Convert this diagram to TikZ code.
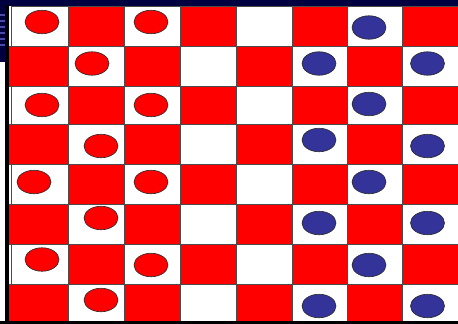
\documentclass[tikz,border=0pt]{standalone}
\usetikzlibrary{shapes.geometric}
\definecolor{bred}{HTML}{FF0000}
\definecolor{bblue}{HTML}{333399}
\definecolor{navy}{HTML}{000040}
\definecolor{stripe}{HTML}{4A4AA8}
\tikzset{
  sq/.style={draw=black!70, line width=0.7pt},
  redsq/.style={sq, fill=bred},
  whitesq/.style={sq, fill=white},
  piece/.style={ellipse, draw=black!85, line width=0.6pt, minimum width=34pt, minimum height=23.5pt, inner sep=0pt},
  redpiece/.style={piece, fill=bred},
  bluepiece/.style={piece, fill=bblue},
}
\begin{document}
\begin{tikzpicture}[x=1pt, y=-1pt]
\useasboundingbox (0,0) rectangle (458,324);
\fill[white] (0,0) rectangle (458,324);
% slide background remnants
\fill[navy] (0,0) rectangle (458,6);
\fill[navy] (0,0) rectangle (6,62);
\foreach \yy in {14,20,26,32,38,44} {\fill[stripe] (0,\yy) rectangle (5,\yy+1.5);}
% squares
\def\colx{{10,68,124,180,236,292,347,402,458}}
\def\rowy{{6,46,86,124,164,204,244,284,322}}
\foreach \r in {0,...,7} {
  \foreach \c in {0,...,7} {
    \pgfmathsetmacro{\xa}{\colx[\c]}
    \pgfmathsetmacro{\xb}{\colx[\c+1]}
    \pgfmathsetmacro{\ya}{\rowy[\r]}
    \pgfmathsetmacro{\yb}{\rowy[\r+1]}
    \pgfmathtruncatemacro{\parv}{mod(\r+\c,2)}
    \pgfmathsetmacro{\xl}{ifthenelse(\c==0, ifthenelse(mod(\r,2)==0, 11, 9), \xa)}
    \ifnum\parv=0
      \draw[whitesq] (\xl,\ya) rectangle (\xb,\yb);
    \else
      \draw[redsq] (\xl,\ya) rectangle (\xb,\yb);
    \fi
  }
}
% borders
\fill[black] (5,5) rectangle (9,324);
\fill[black] (0,321) rectangle (458,324);
% red pieces
\node[redpiece] (r11) at (42,22) {};
\node[redpiece] (r13) at (151,22) {};
\node[redpiece] (r22) at (92,63.5) {};
\node[redpiece] (r31) at (42,105) {};
\node[redpiece] (r33) at (151,105) {};
\node[redpiece] (r42) at (101,146) {};
\node[redpiece] (r51) at (34,182) {};
\node[redpiece] (r53) at (151,182) {};
\node[redpiece] (r62) at (101,218) {};
\node[redpiece] (r71) at (42,259.5) {};
\node[redpiece] (r73) at (151,265) {};
\node[redpiece] (r82) at (101,300) {};
% blue pieces
\node[bluepiece] (b17) at (369,27.5) {};
\node[bluepiece] (b26) at (319,63.5) {};
\node[bluepiece] (b28) at (427.5,63.5) {};
\node[bluepiece] (b37) at (369,104) {};
\node[bluepiece] (b46) at (319,140) {};
\node[bluepiece] (b48) at (427.5,146) {};
\node[bluepiece] (b57) at (369,182) {};
\node[bluepiece] (b66) at (319,223) {};
\node[bluepiece] (b68) at (427.5,223) {};
\node[bluepiece] (b77) at (369,265) {};
\node[bluepiece] (b86) at (319,306) {};
\node[bluepiece] (b88) at (427.5,306) {};
\end{tikzpicture}
\end{document}
